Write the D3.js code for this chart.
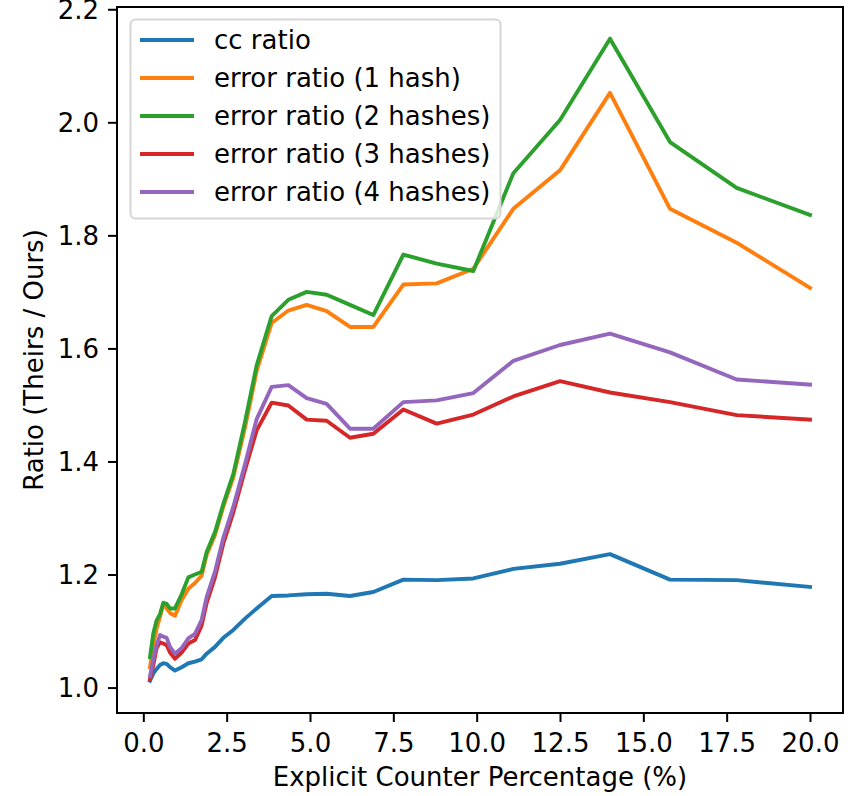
<!DOCTYPE html>
<html>
<head>
<meta charset="utf-8">
<script src="https://cdn.jsdelivr.net/npm/d3@7.9.0/dist/d3.min.js"></script>
<style>
  html, body { margin: 0; padding: 0; background: #fff; }
  svg { display: block; font-family: "DejaVu Sans", sans-serif; }
</style>
</head>
<body>
<svg id="chart" width="853" height="796"></svg>
<script>
// Explicit counter percentage (x values)
const pct = [0.2, 0.3, 0.4, 0.5, 0.6, 0.7, 0.8, 0.95, 1.15, 1.35, 1.55, 1.75, 1.9, 2.15, 2.4, 2.7, 3.05, 3.4,
  3.85, 4.35, 4.9, 5.5, 6.2, 6.9, 7.8, 8.8, 9.9, 11.1, 12.5, 14.0, 15.8, 17.8, 20.0];

const ccRatio = [1.012, 1.025, 1.033, 1.040, 1.043, 1.042, 1.036, 1.030, 1.036, 1.043, 1.046, 1.050, 1.060, 1.072, 1.088, 1.102, 1.122, 1.140,
  1.162, 1.163, 1.165, 1.166, 1.162, 1.169, 1.191, 1.190, 1.193, 1.210, 1.219, 1.236, 1.191, 1.190, 1.178];

const err1 = [1.036, 1.075, 1.105, 1.125, 1.148, 1.140, 1.132, 1.127, 1.155, 1.175, 1.185, 1.198, 1.235, 1.270, 1.320, 1.372, 1.460, 1.560,
  1.645, 1.667, 1.677, 1.666, 1.638, 1.638, 1.713, 1.715, 1.741, 1.847, 1.915, 2.052, 1.847, 1.787, 1.707];

const err2 = [1.054, 1.096, 1.119, 1.130, 1.150, 1.148, 1.140, 1.140, 1.165, 1.195, 1.200, 1.205, 1.240, 1.275, 1.325, 1.378, 1.470, 1.570,
  1.657, 1.686, 1.700, 1.695, 1.677, 1.659, 1.766, 1.750, 1.737, 1.910, 2.004, 2.148, 1.965, 1.884, 1.836];

const err3 = [1.015, 1.040, 1.070, 1.080, 1.078, 1.075, 1.062, 1.051, 1.062, 1.078, 1.084, 1.110, 1.150, 1.195, 1.255, 1.310, 1.385, 1.455,
  1.504, 1.499, 1.474, 1.472, 1.442, 1.449, 1.492, 1.467, 1.483, 1.515, 1.542, 1.522, 1.505, 1.482, 1.474];

const err4 = [1.020, 1.050, 1.075, 1.093, 1.090, 1.088, 1.072, 1.060, 1.070, 1.087, 1.095, 1.120, 1.160, 1.205, 1.265, 1.320, 1.395, 1.475,
  1.532, 1.535, 1.512, 1.502, 1.458, 1.458, 1.505, 1.508, 1.521, 1.578, 1.606, 1.626, 1.593, 1.545, 1.536];

const seriesNames = ['cc ratio', 'error ratio (1 hash)', 'error ratio (2 hashes)', 'error ratio (3 hashes)', 'error ratio (4 hashes)'];
const seriesValues = [ccRatio, err1, err2, err3, err4];
const seriesColors = ['#1f77b4', '#ff7f0e', '#2ca02c', '#d62728', '#9467bd'];

const xTicks = [0, 2.5, 5, 7.5, 10, 12.5, 15, 17.5, 20];
const yTicks = [1.0, 1.2, 1.4, 1.6, 1.8, 2.0, 2.2];

const fs = 26;
const plotLeft = 117, plotRight = 843, plotTop = 7, plotBottom = 713;

const svg = d3.select('#chart');

const x = d3.scaleLinear().domain([-0.79, 20.99]).range([plotLeft, plotRight]);
const y = d3.scaleLinear().domain([0.955, 2.204]).range([plotBottom, plotTop]);

// Lines
const line = d3.line()
  .x((d) => x(d[0]))
  .y((d) => y(d[1]));

seriesValues.forEach((vals, i) => {
  svg.append('path')
    .datum(pct.map((p, j) => [p, vals[j]]))
    .attr('d', line)
    .attr('fill', 'none')
    .attr('stroke', seriesColors[i])
    .attr('stroke-width', 3.9)
    .attr('stroke-linejoin', 'round')
    .attr('stroke-linecap', 'square');
});

// Axes
const xAxis = d3.axisBottom(x)
  .tickValues(xTicks)
  .tickFormat(d3.format('.1f'))
  .tickSizeInner(9)
  .tickSizeOuter(0)
  .tickPadding(9);

const yAxis = d3.axisLeft(y)
  .tickValues(yTicks)
  .tickFormat(d3.format('.1f'))
  .tickSizeInner(9)
  .tickSizeOuter(0)
  .tickPadding(9);

const gx = svg.append('g').attr('transform', `translate(0,${plotBottom})`).call(xAxis);
const gy = svg.append('g').attr('transform', `translate(${plotLeft},0)`).call(yAxis);

[gx, gy].forEach((g) => {
  g.select('.domain').remove();
  g.selectAll('.tick line').attr('stroke', '#000').attr('stroke-width', 2);
  g.selectAll('.tick text')
    .attr('fill', '#000')
    .style('font-size', fs + 'px')
    .style('font-family', '"DejaVu Sans", sans-serif');
});
gx.selectAll('.tick text').attr('dy', null).attr('y', 39);
gy.selectAll('.tick text').attr('dy', '0.36em');

// Frame
svg.append('rect')
  .attr('x', plotLeft).attr('y', plotTop)
  .attr('width', plotRight - plotLeft).attr('height', plotBottom - plotTop)
  .attr('fill', 'none')
  .attr('stroke', '#000')
  .attr('stroke-width', 2);

// Axis labels
svg.append('text')
  .attr('x', (plotLeft + plotRight) / 2)
  .attr('y', 786)
  .attr('text-anchor', 'middle')
  .style('font-size', fs + 'px')
  .text('Explicit Counter Percentage (%)');

svg.append('text')
  .attr('transform', `translate(43,${(plotTop + plotBottom) / 2}) rotate(-90)`)
  .attr('text-anchor', 'middle')
  .style('font-size', fs + 'px')
  .text('Ratio (Theirs / Ours)');

// Legend
const legend = svg.append('g');
legend.append('rect')
  .attr('x', 130.5).attr('y', 19.5)
  .attr('width', 370).attr('height', 199)
  .attr('rx', 5)
  .attr('fill', 'rgba(255,255,255,0.8)')
  .attr('stroke', '#d6d6d6')
  .attr('stroke-width', 2);

seriesNames.forEach((name, i) => {
  const ly = 40 + i * 38;
  legend.append('line')
    .attr('x1', 140).attr('x2', 194)
    .attr('y1', ly).attr('y2', ly)
    .attr('stroke', seriesColors[i])
    .attr('stroke-width', 3.9);
  legend.append('text')
    .attr('x', 214)
    .attr('y', ly)
    .attr('dy', '0.36em')
    .style('font-size', fs + 'px')
    .text(name);
});
</script>
</body>
</html>
